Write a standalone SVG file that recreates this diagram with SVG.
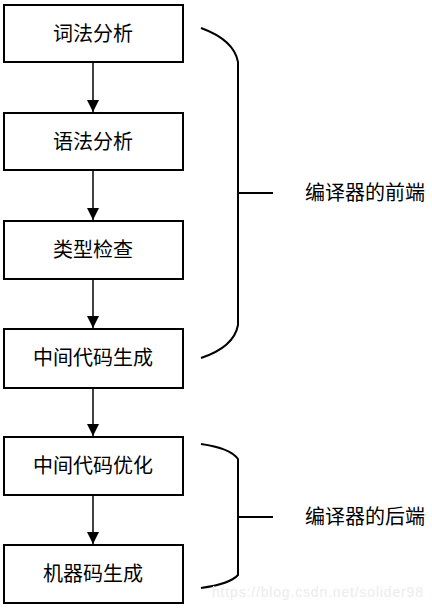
<svg xmlns="http://www.w3.org/2000/svg" width="432" height="611" viewBox="0 0 432 611">
<defs>
<marker id="arr" markerWidth="12" markerHeight="14" refX="12" refY="6" orient="auto" markerUnits="userSpaceOnUse">
<path d="M0,0 L12,6 L0,12 Z" fill="#000"/>
</marker>
<style>
.box{fill:#fff;stroke:#000;stroke-width:2}
.t{font-family:"Noto Sans CJK SC","Noto Sans",sans-serif;font-size:20px;fill:#000;text-anchor:middle}
.lbl{font-family:"Noto Sans CJK SC","Noto Sans",sans-serif;font-size:20px;fill:#000}
.c{fill:none;stroke:#000;stroke-width:1.5}
.br{fill:none;stroke:#000;stroke-width:2}
</style>
</defs>
<rect width="432" height="611" fill="#fff"/>
<g id="connectors">
<line class="c" x1="93" y1="62" x2="93" y2="112" marker-end="url(#arr)"/>
<line class="c" x1="93" y1="170" x2="93" y2="220" marker-end="url(#arr)"/>
<line class="c" x1="93" y1="279" x2="93" y2="328" marker-end="url(#arr)"/>
<line class="c" x1="93" y1="388" x2="93" y2="436" marker-end="url(#arr)"/>
<line class="c" x1="93" y1="495" x2="93" y2="544" marker-end="url(#arr)"/>
</g>
<g id="n1"><rect class="box" x="4" y="5" width="179" height="57"/><text class="t" x="93" y="41">词法分析</text></g>
<g id="n2"><rect class="box" x="4" y="113" width="179" height="57"/><text class="t" x="93" y="149">语法分析</text></g>
<g id="n3"><rect class="box" x="4" y="221" width="179" height="58"/><text class="t" x="93" y="257">类型检查</text></g>
<g id="n4"><rect class="box" x="4" y="329" width="179" height="59"/><text class="t" x="93" y="365">中间代码生成</text></g>
<g id="n5"><rect class="box" x="4" y="437" width="179" height="58"/><text class="t" x="93" y="473">中间代码优化</text></g>
<g id="n6"><rect class="box" x="4" y="545" width="179" height="58"/><text class="t" x="93" y="581">机器码生成</text></g>
<g id="front">
<path class="br" d="M201,28 Q234,40 238,62 L238,325 Q234,347 201,358 M238,193 L273,193"/>
<text class="lbl" x="305" y="200">编译器的前端</text>
</g>
<g id="back">
<path class="br" d="M201,444 Q230,448 238,459 L238,575 Q230,584 201,588 M238,517 L273,517"/>
<text class="lbl" x="305" y="524">编译器的后端</text>
</g>
<text x="212" y="597" font-family="Liberation Sans, Arial, sans-serif" font-size="14" fill="#ececec" textLength="211">https://blog.csdn.net/solider98</text>
</svg>
